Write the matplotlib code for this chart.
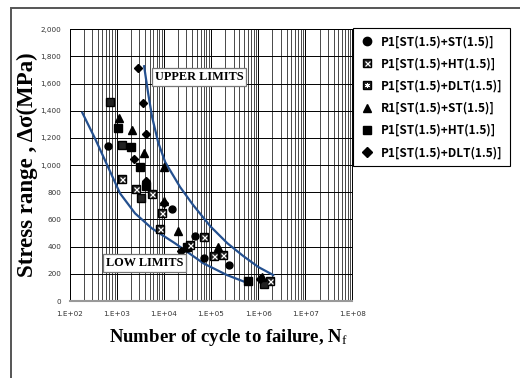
import numpy as np
import matplotlib
matplotlib.use("Agg")
import matplotlib.pyplot as plt
from matplotlib.lines import Line2D
from matplotlib.patches import Rectangle
from matplotlib.ticker import LogLocator, NullFormatter

plt.rcParams['mathtext.fontset'] = 'custom'
plt.rcParams['mathtext.rm'] = 'Liberation Serif'
plt.rcParams['mathtext.it'] = 'Liberation Serif'
plt.rcParams['mathtext.bf'] = 'Liberation Serif:bold'

## data (cycles, stress range MPa)
circ_n = [667, 14800, 45500, 30800, 72800, 235000]
circ_s = [1140, 676, 478, 392, 318, 265]

ht_n = [1320, 2620, 5730, 9330, 8340, 36100, 72800, 113000, 184000, 1810000]
ht_s = [895, 821, 789, 645, 527, 412, 468, 331, 336, 149]

dlt_n = [724, 1280, 3300, 1300000]
dlt_s = [1465, 1152, 760, 125]

tri_n = [1120, 2090, 3760, 10300, 9900, 19500, 140000, 1200000]
tri_s = [1348, 1257, 1086, 988, 735, 515, 395, 174]

sq_n = [1050, 2020, 3140, 4150, 30800, 596000]
sq_s = [1274, 1135, 983, 846, 400, 149]

dia_n = [2890, 3640, 4280, 2340, 4150, 10000, 22900, 1110000]
dia_s = [1718, 1458, 1230, 1042, 882, 718, 370, 160]

# limit curves
upper_n = [3820, 4650, 5650, 7570, 10700, 22200, 41900, 96200, 221000, 483000, 1010000, 2090000]
upper_s = [1728, 1529, 1353, 1169, 1022, 838, 706, 551, 426, 331, 250, 191]

lower_n = [187, 348, 540, 1180, 2460, 5560, 17400, 69300, 218000, 703000]
lower_s = [1386, 1196, 1051, 792, 645, 535, 424, 277, 191, 123]

labels = ['P1[ST(1.5)+ST(1.5)]', 'P1[ST(1.5)+HT(1.5)]', 'P1[ST(1.5)+DLT(1.5)]',
          'R1[ST(1.5)+ST(1.5)]', 'P1[ST(1.5)+HT(1.5)]', 'P1[ST(1.5)+DLT(1.5)]']
xtick_vals = [1e2, 1e3, 1e4, 1e5, 1e6, 1e7, 1e8]
xtick_txt = ['1.E+02', '1.E+03', '1.E+04', '1.E+05', '1.E+06', '1.E+07', '1.E+08']
ytick_vals = [0, 200, 400, 600, 800, 1000, 1200, 1400, 1600, 1800, 2000]
ytick_txt = ['0', '200', '400', '600', '800', '1,000', '1,200', '1,400', '1,600', '1,800', '2,000']

W, H = 520, 378
fig = plt.figure(figsize=(W / 100, H / 100), dpi=100)
ax = fig.add_axes([69.5 / W, 77 / H, 283 / W, 271.7 / H])

# outer chart border
fig.add_artist(Rectangle((11 / W, -0.05), 1.2, 1.05 - 8 / H, transform=fig.transFigure,
                         fill=False, ec='#555555', lw=1.4))

ax.set_xscale('log')
ax.set_xlim(1e2, 1e8)
ax.set_ylim(0, 2000)
ax.set_xticks(xtick_vals, xtick_txt)
ax.xaxis.set_minor_locator(LogLocator(base=10, subs=np.arange(2, 10)))
ax.xaxis.set_minor_formatter(NullFormatter())
ax.set_yticks(ytick_vals, ytick_txt)
ax.tick_params(which='both', length=0, labelsize=5.2, labelcolor='#333333')
ax.tick_params(axis='x', pad=7)
ax.tick_params(axis='y', pad=6)
ax.grid(which='major', color='black', lw=0.7)
ax.grid(which='minor', axis='x', color='black', lw=0.5)
for side in ['left', 'top', 'right']:
    ax.spines[side].set_color('black')
    ax.spines[side].set_linewidth(0.7)
ax.spines['bottom'].set_color('#999999')
ax.spines['bottom'].set_linewidth(1.5)

blue = '#24508f'
ax.plot(upper_n, upper_s, color=blue, lw=1.6, zorder=3, solid_joinstyle='round')
ax.plot(lower_n, lower_s, color=blue, lw=1.6, zorder=3, solid_joinstyle='round')

ms = 6
ax.plot(circ_n, circ_s, 'o', color='k', ms=5, ls='', zorder=4)
ax.plot(ht_n, ht_s, 's', mfc='#222222', mec='k', ms=ms, ls='', zorder=4)
ax.plot(ht_n, ht_s, 'x', color='white', ms=3.6, mew=0.9, ls='', zorder=5)
ax.plot(dlt_n, dlt_s, 's', mfc='#222222', mec='k', ms=ms, ls='', zorder=4)
ax.plot(dlt_n, dlt_s, (6, 2, 0), color='white', ms=3.6, mew=0.7, ls='', zorder=5)
ax.plot(tri_n, tri_s, '^', color='k', ms=6, ls='', zorder=4)
ax.plot(sq_n, sq_s, 's', color='k', ms=5.5, ls='', zorder=4)
ax.plot(dia_n, dia_s, 'D', color='k', ms=4.5, ls='', zorder=4)

box = dict(boxstyle='square,pad=0.25', fc='white', ec='#777777', lw=0.9)
ax.text(0.4576, 0.826, 'UPPER LIMITS', transform=ax.transAxes, ha='center', va='center',
        family='Liberation Serif', weight='bold', fontsize=8.8, bbox=box, zorder=6)
ax.text(0.265, 0.139, 'LOW LIMITS', transform=ax.transAxes, ha='center', va='center',
        family='Liberation Serif', weight='bold', fontsize=8.8, bbox=box, zorder=6)

fig.text(27 / W, 1 - 165 / H, 'Stress range , \u0394\u03c3(MPa)', rotation=90, ha='center', va='center',
         family='Liberation Serif', weight='bold', fontsize=16.5)
fig.text(228 / W, 1 - 338 / H, r'Number of cycle to failure, N$_\mathrm{f}$', ha='center', va='center',
         family='Liberation Serif', weight='bold', fontsize=13.5)

handles = [
    Line2D([], [], marker='o', color='k', ls='', ms=6),
    (Line2D([], [], marker='s', mfc='#222222', mec='k', ls='', ms=6),
     Line2D([], [], marker='x', color='white', ls='', ms=3.6, mew=0.9)),
    (Line2D([], [], marker='s', mfc='#222222', mec='k', ls='', ms=6),
     Line2D([], [], marker=(6, 2, 0), color='white', ls='', ms=3.6, mew=0.7)),
    Line2D([], [], marker='^', color='k', ls='', ms=6),
    Line2D([], [], marker='s', color='k', ls='', ms=6),
    Line2D([], [], marker='D', color='k', ls='', ms=5),
]
leg = fig.legend(handles, labels, loc='upper left', bbox_to_anchor=(353 / W, 1 - 28 / H),
                 frameon=True, fancybox=False, edgecolor='black', framealpha=1,
                 prop={'family': 'Noto Sans CJK KR', 'weight': 'bold', 'size': 8.5},
                 handlelength=1.2, handletextpad=0.6, labelspacing=0.78, borderpad=0.6,
                 borderaxespad=0)
leg.get_frame().set_linewidth(0.8)

fig.savefig('out.png', dpi=100)
